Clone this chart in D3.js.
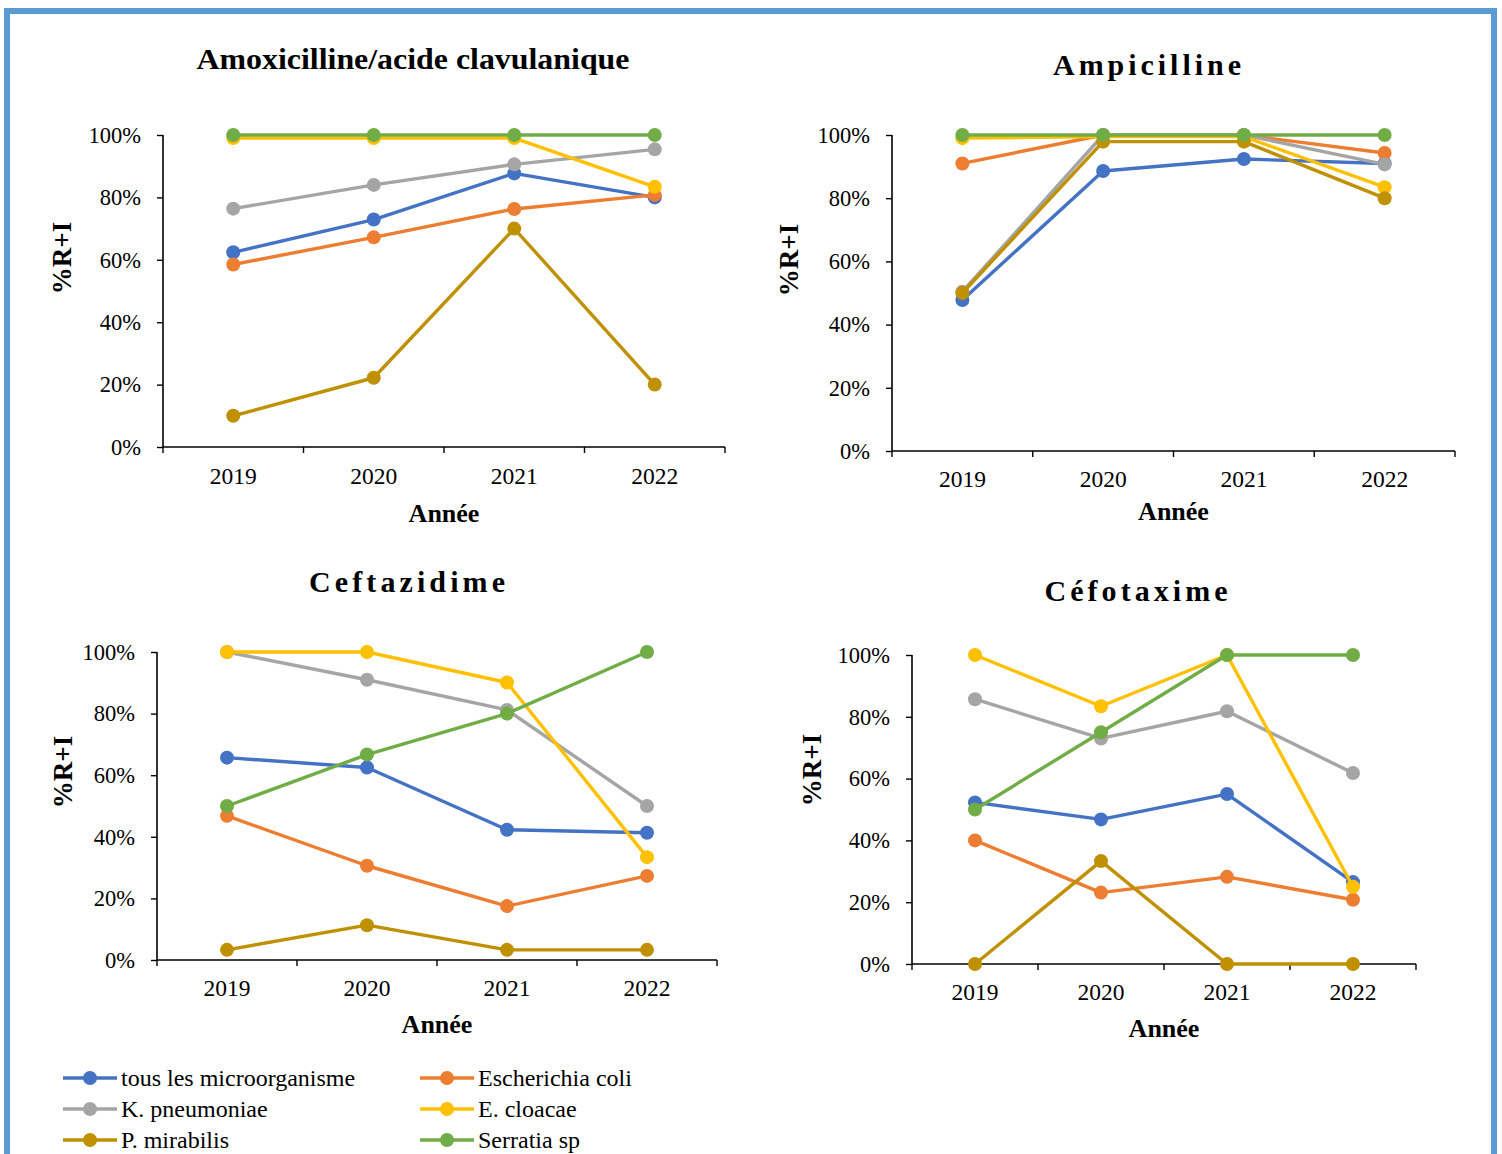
<!DOCTYPE html>
<html>
<head>
<meta charset="utf-8">
<script src="https://cdn.jsdelivr.net/npm/d3@7"></script>
<style>
  html, body { margin: 0; padding: 0; background: #fff; }
  svg { display: block; }
  text { font-family: "Liberation Serif", "Times New Roman", serif; fill: #000; }
</style>
</head>
<body>
<svg id="chart" width="1502" height="1154"></svg>
<script>
// Years on the category axis
const years = ["2019", "2020", "2021", "2022"];

// Organisms (series), in drawing order
const organisms = ["tous les microorganisme", "Escherichia coli", "K. pneumoniae",
                   "E. cloacae", "P. mirabilis", "Serratia sp"];
const organismColors = ["#4472C4", "#ED7D31", "#A5A5A5", "#FFC000", "#BF9000", "#70AD47"];

// Percentage of resistant + intermediate strains, one row per organism
const amoxicillineClav = [
  [62.4, 72.9, 87.7, 80.0],
  [58.5, 67.2, 76.3, 80.8],
  [76.4, 84.0, 90.6, 95.4],
  [99.0, 99.0, 99.0, 83.4],
  [10.0, 22.2, 70.0, 20.0],
  [100, 100, 100, 100]
];
const ampicilline = [
  [47.8, 88.6, 92.4, 91.0],
  [91.0, 100, 100, 94.3],
  [50.4, 100, 100, 90.7],
  [99.0, 99.5, 99.5, 83.5],
  [50.0, 97.9, 97.9, 80.0],
  [100, 100, 100, 100]
];
const ceftazidime = [
  [65.7, 62.5, 42.3, 41.3],
  [46.8, 30.6, 17.5, 27.3],
  [100, 91.0, 81.2, 50.0],
  [100, 100, 90.1, 33.4],
  [3.3, 11.3, 3.3, 3.3],
  [50.0, 66.7, 80.0, 100]
];
const cefotaxime = [
  [52.3, 46.8, 55.0, 26.5],
  [40.0, 23.1, 28.2, 20.8],
  [85.7, 73.0, 81.8, 61.8],
  [100, 83.4, 100, 25.0],
  [0, 33.3, 0, 0],
  [50.0, 75.0, 100, 100]
];

// Y-axis tick values (percent)
const percentTicks = [0, 20, 40, 60, 80, 100];

// Panel placement
const panels = [
  { title: "Amoxicilline/acide clavulanique", data: amoxicillineClav,
    x0: 163, x1: 725, yTop: 135, yBot: 447,
    titleX: 413, titleY: 69, titleLen: 433, spaced: false,
    ylabX: 62, ylabY: 258, yearY: 484, anneeY: 522 },
  { title: "Ampicilline", data: ampicilline,
    x0: 892, x1: 1455, yTop: 135, yBot: 451,
    titleX: 1147, titleY: 75, titleLen: 188, spaced: true,
    ylabX: 789, ylabY: 260, yearY: 487, anneeY: 520 },
  { title: "Ceftazidime", data: ceftazidime,
    x0: 157, x1: 717, yTop: 652, yBot: 960,
    titleX: 407, titleY: 592, titleLen: 196, spaced: true,
    ylabX: 63, ylabY: 772, yearY: 996, anneeY: 1033 },
  { title: "Céfotaxime", data: cefotaxime,
    x0: 912, x1: 1416, yTop: 655, yBot: 964,
    titleX: 1136, titleY: 601, titleLen: 183, spaced: true,
    ylabX: 812, ylabY: 770, yearY: 1000, anneeY: 1037 }
];

const svg = d3.select("#chart");

// Outer frame
svg.append("rect")
  .attr("x", 7).attr("y", 11)
  .attr("width", 1487).attr("height", 1160)
  .attr("fill", "none")
  .attr("stroke", "#5B9BD5")
  .attr("stroke-width", 6);

panels.forEach(p => {
  const g = svg.append("g");
  const x = d3.scaleBand().domain(years).range([p.x0, p.x1]).paddingInner(0).paddingOuter(0);
  const y = d3.scaleLinear().domain([0, 100]).range([p.yBot, p.yTop]);

  // Title
  g.append("text")
    .attr("x", p.titleX).attr("y", p.titleY)
    .attr("text-anchor", "middle")
    .attr("font-size", 30)
    .attr("font-weight", "bold")
    .attr("textLength", p.titleLen)
    .attr("lengthAdjust", p.spaced ? "spacing" : "spacingAndGlyphs")
    .text(p.title);

  // Y axis
  const yAxis = d3.axisLeft(y)
    .tickValues(percentTicks)
    .tickFormat(d => d + "%")
    .tickSize(6)
    .tickPadding(16);
  const ya = g.append("g").attr("transform", `translate(${p.x0},0)`).call(yAxis);
  ya.select(".domain").attr("stroke", "#000").attr("stroke-width", 1.6)
    .attr("d", `M0,${p.yTop}V${p.yBot}`);
  ya.selectAll(".tick line").attr("stroke", "#000").attr("stroke-width", 1.4);
  ya.selectAll(".tick text")
    .attr("font-size", 22.5)
    .attr("fill", "#000");

  // X axis: line, boundary ticks, centred year labels
  g.append("line")
    .attr("x1", p.x0).attr("x2", p.x1)
    .attr("y1", p.yBot).attr("y2", p.yBot)
    .attr("stroke", "#000").attr("stroke-width", 1.6);
  const boundaries = years.map(d => x(d)).concat([x(years[years.length - 1]) + x.bandwidth()]);
  g.selectAll(".xtick").data(boundaries).join("line")
    .attr("x1", d => d).attr("x2", d => d)
    .attr("y1", p.yBot).attr("y2", p.yBot + 6)
    .attr("stroke", "#000").attr("stroke-width", 1.4);
  g.selectAll(".year").data(years).join("text")
    .attr("x", d => x(d) + x.bandwidth() / 2)
    .attr("y", p.yearY)
    .attr("text-anchor", "middle")
    .attr("font-size", 23.5)
    .text(d => d);

  // Axis titles
  g.append("text")
    .attr("x", (p.x0 + p.x1) / 2).attr("y", p.anneeY)
    .attr("text-anchor", "middle")
    .attr("font-size", 26).attr("font-weight", "bold")
    .text("Année");
  g.append("text")
    .attr("transform", `translate(${p.ylabX + 9},${p.ylabY}) rotate(-90)`)
    .attr("text-anchor", "middle")
    .attr("font-size", 27).attr("font-weight", "bold")
    .text("%R+I");

  // Series lines and markers
  const cx = d => x(d) + x.bandwidth() / 2;
  const line = d3.line().x((v, i) => cx(years[i])).y(v => y(v));
  p.data.forEach((vals, si) => {
    const col = organismColors[si];
    g.append("path")
      .attr("d", line(vals))
      .attr("fill", "none")
      .attr("stroke", col)
      .attr("stroke-width", 3.4)
      .attr("stroke-linejoin", "round");
    g.selectAll(null).data(vals).join("circle")
      .attr("cx", (v, i) => cx(years[i]))
      .attr("cy", v => y(v))
      .attr("r", 7)
      .attr("fill", col);
  });
});

// Legend
const legendCols = [63, 420];
const legendRows = [1078, 1109, 1140];
organisms.forEach((name, i) => {
  const lx = legendCols[i % 2];
  const ly = legendRows[Math.floor(i / 2)];
  const lg = svg.append("g");
  lg.append("line")
    .attr("x1", lx).attr("x2", lx + 54)
    .attr("y1", ly).attr("y2", ly)
    .attr("stroke", organismColors[i]).attr("stroke-width", 3.4);
  lg.append("circle")
    .attr("cx", lx + 27).attr("cy", ly).attr("r", 7)
    .attr("fill", organismColors[i]);
  lg.append("text")
    .attr("x", lx + 58).attr("y", ly + 8)
    .attr("font-size", 24)
    .text(name);
});
</script>
</body>
</html>
